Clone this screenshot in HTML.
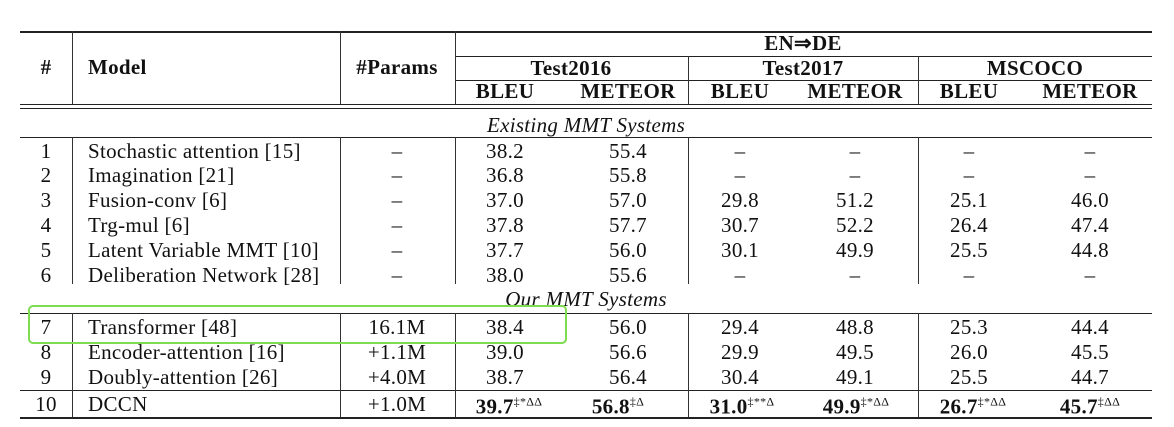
<!DOCTYPE html>
<html><head><meta charset="utf-8"><style>
body{margin:0;width:1174px;height:427px;background:#fff;position:relative;overflow:hidden;font-family:"Liberation Serif",serif;color:#111}
.h{position:absolute;height:1px;background:#222}
.v{position:absolute;width:1px;background:#333}
.t{position:absolute;font-size:21px;line-height:22px;letter-spacing:0.3px;white-space:nowrap;transform:translate(-50%,-50%)}
.l{transform:translate(0,-50%)}
.b{font-weight:bold}
.i{font-style:italic}
sup{font-size:12px;vertical-align:8px;font-weight:normal}
</style></head><body>
<div id="tbl"></div>
<div style="position:absolute;left:28px;top:305px;width:535px;height:35px;border:2px solid #7ddc4f;border-radius:5px"></div>
<script>
const root=document.getElementById('tbl');
function add(cls,style,html,name){const e=document.createElement('div');e.className=cls;e.style.cssText=style;if(html!==undefined)e.innerHTML=html;


root.appendChild(e);}
[[20,1152,31,1.5],[455,1152,56,1],[455,1152,80,1],[20,1152,104,1],[20,1152,108,1],[20,1152,137,1],[20,1152,313,1],[20,1152,390,1],[20,1152,417,1.5]].forEach(r=>add('h',`left:${r[0]}px;width:${r[1]-r[0]}px;top:${r[2]}px;height:${r[3]}px`,undefined,'table-rule'));
[72,340,455].forEach(x=>add('v',`left:${x}px;top:31px;height:73px`,undefined,'column-divider'));
[688,918].forEach(x=>add('v',`left:${x}px;top:56px;height:48px`,undefined,'column-divider'));
[72,340,455,688,918].forEach(x=>{
add('v',`left:${x}px;top:137px;height:147px`,undefined,'column-divider');
add('v',`left:${x}px;top:313px;height:104px`,undefined,'column-divider');});
add('t b',`left:46px;top:67px`,'#','header-index');
add('t l b',`left:88px;top:67px`,'Model','header-model');
add('t b',`left:397px;top:67px`,'#Params','header-params');
add('t b',`left:803px;top:43px`,'EN⇒DE','header-en-de');
[['Test2016',571],['Test2017',803],['MSCOCO',1035]].forEach(h=>add('t b',`left:${h[1]}px;top:68px`,h[0],'header-testset'));
const cx=[505,628,740,855,969,1090];
const supOff=[4,-10,2,1,4,0];
cx.forEach((x,i)=>add('t b',`left:${x}px;top:91px`,i%2?'METEOR':'BLEU','header-metric'));
add('t i',`left:586px;top:125px`,'Existing MMT Systems','section-existing');
add('t i',`left:586px;top:299px`,'Our MMT Systems','section-ours');
const D='–';
const rows=[
['1','Stochastic attention [15]',D,['38.2','55.4',D,D,D,D],151],
['2','Imagination [21]',D,['36.8','55.8',D,D,D,D],175],
['3','Fusion-conv [6]',D,['37.0','57.0','29.8','51.2','25.1','46.0'],200],
['4','Trg-mul [6]',D,['37.8','57.7','30.7','52.2','26.4','47.4'],225],
['5','Latent Variable MMT [10]',D,['37.7','56.0','30.1','49.9','25.5','44.8'],250],
['6','Deliberation Network [28]',D,['38.0','55.6',D,D,D,D],275],
['7','Transformer [48]','16.1M',['38.4','56.0','29.4','48.8','25.3','44.4'],327],
['8','Encoder-attention [16]','+1.1M',['39.0','56.6','29.9','49.5','26.0','45.5'],352],
['9','Doubly-attention [26]','+4.0M',['38.7','56.4','30.4','49.1','25.5','44.7'],377],
['10','DCCN','+1.0M',['<b>39.7</b><sup>‡*ΔΔ</sup>','<b>56.8</b><sup>‡Δ</sup>','<b>31.0</b><sup>‡**Δ</sup>','<b>49.9</b><sup>‡*ΔΔ</sup>','<b>26.7</b><sup>‡*ΔΔ</sup>','<b>45.7</b><sup>‡ΔΔ</sup>'],404]];
rows.forEach(r=>{const y=r[4];
add('t',`left:46px;top:${y}px`,r[0],'row-index');
add('t l',`left:88px;top:${y}px`,r[1],'model-name');
add('t',`left:397px;top:${y}px`,r[2],'param-count');
r[3].forEach((v,i)=>{const sup=v.indexOf('<sup>')>=0;add('t',`left:${cx[i]+(sup?supOff[i]:0)}px;top:${y}px`,v,'score-cell');});});
</script>
</body></html>
